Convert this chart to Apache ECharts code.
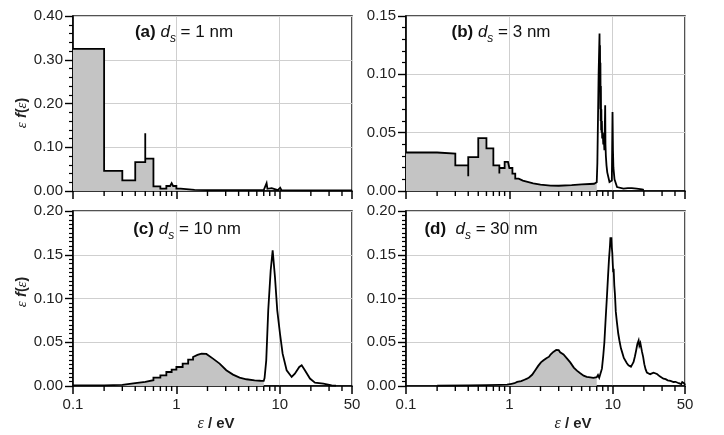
<!DOCTYPE html>
<html><head><meta charset="utf-8">
<script src="https://cdn.jsdelivr.net/npm/echarts@6/dist/echarts.min.js"></script>
<style>html,body{margin:0;padding:0;background:#fff}#c{width:724px;height:435px}</style>
</head><body><div id="c"></div>
<script>
// ---- data (energy eV, eps*f(eps)) ----
const dataA = [
 [0.1,0.325],[0.2,0.325],[0.2,0.046],[0.3,0.046],[0.3,0.0245],[0.4,0.0245],[0.4,0.066],[0.5,0.066],
 [0.5,0.132],[0.5,0.074],[0.6,0.074],[0.6,0.0107],[0.7,0.0107],[0.7,0.0055],[0.8,0.0055],[0.8,0.0114],
 [0.87,0.0114],[0.9,0.018],[0.93,0.0114],[1.0,0.0114],[1.0,0.0055],[1.1,0.0055],[1.1,0.003],[1.5,0.0025],
 [2,0.002],[3,0.002],[5,0.002],[7,0.002],[7.3,0.0035],[7.46,0.018],[7.6,0.005],[7.9,0.0035],[8.35,0.0064],
 [8.6,0.002],[9.6,0.002],[10.1,0.0075],[10.4,0.002],[20,0.0015],[50,0.0015]
];
const dataB = [
 [0.1,0.033],[0.2,0.033],[0.2,0.032],[0.3,0.032],[0.3,0.022],[0.4,0.022],[0.4,0.0126],[0.4,0.029],
 [0.5,0.029],[0.5,0.0454],[0.6,0.0454],[0.6,0.0365],[0.7,0.0365],[0.7,0.022],[0.8,0.022],[0.8,0.015],
 [0.8,0.0197],[0.9,0.0197],[0.9,0.025],[0.97,0.025],[0.97,0.0235],[1.0,0.0235],[1.0,0.0197],[1.07,0.0197],
 [1.07,0.0149],[1.14,0.0149],[1.14,0.0106],[1.23,0.0106],[1.23,0.0089],[1.35,0.0089],[1.5,0.0078],
 [1.7,0.0066],[2,0.0055],[2.5,0.0046],[3,0.0045],[4,0.005],[5,0.0056],[6,0.006],[6.6,0.0062],[7,0.0075],
 [7.1,0.024],[7.19,0.059],[7.3,0.1],[7.45,0.135],[7.5,0.09],[7.53,0.125],[7.57,0.07],[7.6,0.11],
 [7.64,0.06],[7.68,0.09],[7.72,0.052],[7.76,0.07],[7.8,0.05],[7.85,0.06],[7.9,0.045],[8.0,0.05],
 [8.1,0.04],[8.2,0.045],[8.3,0.035],[8.4,0.06],[8.45,0.0735],[8.5,0.04],[8.58,0.03],[8.7,0.022],
 [8.85,0.016],[9.3,0.0077],[9.8,0.009],[9.95,0.0677],[10.05,0.035],[10.15,0.02],[10.4,0.01],
 [11,0.0034],[12.7,0.002],[14,0.0025],[15.3,0.0025],[17,0.002],[19.2,0.0013],[20,0.001]
];
const dataC = [
 [0.1,0.0008],[0.2,0.0008],[0.2,0.0012],[0.3,0.0012],[0.3,0.0034],[0.4,0.0034],[0.4,0.0046],[0.5,0.0046],
 [0.5,0.0066],[0.6,0.0066],[0.6,0.0096],[0.7,0.0096],[0.7,0.0122],[0.8,0.0122],[0.8,0.016],[0.9,0.016],
 [0.9,0.0187],[1.0,0.0187],[1.0,0.0217],[1.15,0.0217],[1.15,0.0256],[1.3,0.0256],[1.3,0.0302],[1.45,0.0302],
 [1.45,0.0331],[1.6,0.0355],[1.75,0.037],[1.95,0.0366],[2.26,0.0313],[2.62,0.0256],[3.04,0.018],
 [3.53,0.013],[4.09,0.0096],[4.75,0.0077],[5.71,0.0065],[6.5,0.006],[7,0.0058],
 [7.13,0.009],[7.4,0.029],[7.74,0.0865],[8.17,0.132],[8.54,0.155],[8.99,0.1246],[9.46,0.0865],
 [10.05,0.06],[10.66,0.037],[11.66,0.018],[13.04,0.0103],[14.0,0.014],[15.45,0.0217],[16.3,0.0236],
 [17.5,0.018],[19.6,0.0085],[21.9,0.0039],[26.4,0.0027],[31.8,0.0008],[35,0.0005]
];
const dataD = [
 [0.2,0.0005],[0.4,0.0008],[0.6,0.001],[0.8,0.0012],[0.95,0.0015],[1.05,0.0025],[1.12,0.0032],[1.19,0.0046],
 [1.3,0.0055],[1.4,0.0072],[1.48,0.0084],[1.55,0.0098],[1.6,0.0115],[1.66,0.0128],[1.72,0.015],[1.78,0.018],
 [1.84,0.0195],[1.9,0.023],[1.95,0.0232],[2.02,0.027],[2.08,0.0275],[2.14,0.0294],[2.2,0.031],[2.28,0.0318],
 [2.35,0.034],[2.42,0.0335],[2.5,0.036],[2.58,0.0365],[2.66,0.039],[2.75,0.0385],[2.84,0.0412],[2.93,0.0405],
 [3.0,0.041],[3.1,0.0385],[3.2,0.0392],[3.34,0.036],[3.45,0.0355],[3.6,0.0315],[3.72,0.0305],[3.88,0.027],
 [4.0,0.0258],[4.2,0.021],[4.35,0.0205],[4.5,0.0175],[4.65,0.0172],[4.85,0.0145],[5.0,0.0148],[5.23,0.0118],
 [5.4,0.0125],[5.6,0.0105],[5.8,0.0112],[6.06,0.0098],[6.3,0.0108],[6.5,0.0092],[6.75,0.0105],[7.0,0.0100],
 [7.2,0.0125],[7.4,0.0095],[7.6,0.014],[7.86,0.0198],[8.1,0.035],[8.3,0.05],[8.55,0.078],[8.8,0.1037],
 [9.0,0.125],[9.2,0.145],[9.4,0.16],[9.5,0.17],[9.6,0.164],[9.7,0.17],[9.8,0.158],[9.9,0.152],[10.0,0.14],
 [10.1,0.13],[10.2,0.134],[10.35,0.115],[10.5,0.105],[10.7,0.085],[10.97,0.073],[11.3,0.06],[11.6,0.052],
 [12.0,0.043],[12.3,0.039],[12.8,0.032],[13.2,0.03],[13.7,0.026],[14.2,0.0237],[14.6,0.025],[15.0,0.022],
 [15.5,0.025],[15.9,0.0274],[16.4,0.034],[16.8,0.04],[17.3,0.048],[17.8,0.052],[18.1,0.046],[18.5,0.049],
 [19.2,0.039],[19.7,0.033],[20.2,0.025],[20.8,0.019],[21.4,0.0153],[22.2,0.0142],[23,0.0135],[23.8,0.0148],
 [24.8,0.0153],[25.7,0.0132],[26.8,0.0137],[28.5,0.011],[29.6,0.0098],[30.9,0.0084],[32.5,0.0078],[34,0.0065],
 [36.2,0.0058],[38.7,0.0046],[40.5,0.0048],[42,0.004],[43.5,0.0032],[45,0.003],[46,0.0022],[47,0.0045],
 [48.4,0.0065],[49.2,0.003],[50,0.001]
];
const panelLabels = ['(a)', '(b)', '(c)', '(d)'];
const panelSizes = ['1 nm', '3 nm', '10 nm', '30 nm'];
const yMaxes = [0.40, 0.15, 0.20, 0.20];
const yIntervals = [0.10, 0.05, 0.05, 0.05];
const yMinorSplits = [5, 5, 10, 10];
const xMinorTicks = [0.2,0.3,0.4,0.5,0.6,0.7,0.8,0.9,2,3,4,5,6,7,8,9,20,30,40];
const fillLimit = 7; // shaded region ends at 7 eV

const chart = echarts.init(document.getElementById('c'), null, {renderer: 'canvas'});
const datasets = [dataA, dataB, dataC, dataD];
const FONT = 'Liberation Sans';
const grids = [
  {left: 73, top: 16, width: 279, height: 175},
  {left: 406, top: 16, width: 279, height: 175},
  {left: 73, top: 211, width: 279, height: 175},
  {left: 406, top: 211, width: 279, height: 175}
].map(g => Object.assign(g, {show: true, borderColor: '#1a1a1a', borderWidth: 1.5, backgroundColor: 'transparent'}));

const xAxes = [], yAxes = [], series = [];
for (let i = 0; i < 4; i++) {
  const bottom = i >= 2;
  xAxes.push({
    type: 'log', logBase: 10, gridIndex: i, min: 0.1, max: 50,
    axisLine: {show: true, lineStyle: {color: '#000', width: 1.6}},
    axisTick: {show: true, length: 8, lineStyle: {color: '#000', width: 1.5}},
    minorTick: {show: false},
    axisLabel: {show: bottom, fontSize: 15, fontFamily: FONT, color: '#222', margin: 11,
      formatter: v => String(Math.round(v * 100) / 100)},
    splitLine: {show: true, lineStyle: {color: '#cfcfcf', width: 1}}
  });
  yAxes.push({
    type: 'value', gridIndex: i, min: 0, max: yMaxes[i], interval: yIntervals[i],
    axisLine: {show: true, lineStyle: {color: '#000', width: 1.6}},
    axisTick: {show: true, length: 8, lineStyle: {color: '#000', width: 1.4}},
    minorTick: {show: true, splitNumber: yMinorSplits[i], length: 4, lineStyle: {color: '#000', width: 1.2}},
    axisLabel: {fontSize: 15, fontFamily: FONT, color: '#222', margin: 10, formatter: v => v.toFixed(2)},
    splitLine: {show: true, lineStyle: {color: '#cfcfcf', width: 1}}
  });
  const d = datasets[i];
  series.push({
    type: 'line', xAxisIndex: i, yAxisIndex: i, data: d.filter(p => p[0] <= fillLimit),
    symbol: 'none', silent: true, z: 1,
    lineStyle: {width: 0, opacity: 0}, areaStyle: {color: '#c4c4c4', opacity: 1}
  });
  series.push({
    type: 'line', xAxisIndex: i, yAxisIndex: i, data: d, symbol: 'none', silent: true, z: 3,
    lineStyle: {color: '#000', width: 1.8, join: 'miter'}
  });
}

const titleRich = {
  b: {fontFamily: FONT, fontWeight: 'bold', fontSize: 17, lineHeight: 26, verticalAlign: 'middle', fill: '#111'},
  i: {fontFamily: FONT, fontStyle: 'italic', fontSize: 17, lineHeight: 26, verticalAlign: 'middle', fill: '#111'},
  s: {fontFamily: FONT, fontStyle: 'italic', fontSize: 12, lineHeight: 12, verticalAlign: 'bottom', fill: '#111'},
  n: {fontFamily: FONT, fontSize: 17, lineHeight: 26, verticalAlign: 'middle', fill: '#111'}
};
const titlePos = [[184, 32], [501, 32], [187, 229], [481, 229]];
const graphics = [];
for (let i = 0; i < 4; i++) {
  const gap = i === 3 ? '  ' : ' ';
  graphics.push({
    type: 'text', x: titlePos[i][0], y: titlePos[i][1], silent: true,
    style: {text: '{b|' + panelLabels[i] + '}{n|' + gap + '}{i|d}{s|s}{n| = ' + panelSizes[i] + '}',
      rich: titleRich, align: 'center', verticalAlign: 'middle', fontSize: 17, fontFamily: FONT}
  });
}
const yNameRich = {
  e: {fontFamily: 'Liberation Serif', fontStyle: 'italic', fontSize: 15, fill: '#222'},
  f: {fontFamily: FONT, fontStyle: 'italic', fontWeight: 'bold', fontSize: 15, fill: '#222'},
  p: {fontFamily: FONT, fontWeight: 'bold', fontSize: 14, fill: '#222'}
};
[[22, 113], [22, 292]].forEach(pos => graphics.push({
  type: 'text', x: pos[0], y: pos[1], rotation: Math.PI / 2, silent: true,
  style: {text: '{e|ε} {f|f}{p|(}{e|ε}{p|)}', rich: yNameRich, align: 'center', verticalAlign: 'middle', fontSize: 15}
}));
const xNameRich = {
  e: {fontFamily: 'Liberation Serif', fontStyle: 'italic', fontSize: 16, fill: '#222'},
  t: {fontFamily: FONT, fontWeight: 'bold', fontSize: 15, fill: '#222'}
};
[[216, 424], [573, 424]].forEach(pos => graphics.push({
  type: 'text', x: pos[0], y: pos[1], silent: true,
  style: {text: '{e|ε}{t| / eV}', rich: xNameRich, align: 'center', verticalAlign: 'middle', fontSize: 15}
}));

chart.setOption({
  animation: false,
  backgroundColor: '#fff',
  grid: grids, xAxis: xAxes, yAxis: yAxes, series: series, graphic: graphics
});

// minor x ticks (2..9 per decade), positioned through the axes' own scales
const tickGraphics = [];
for (let i = 0; i < 4; i++) {
  xMinorTicks.forEach(v => {
    const p = chart.convertToPixel({gridIndex: i}, [v, 0]);
    if (!p) return;
    tickGraphics.push({
      type: 'line', silent: true, z: 10,
      shape: {x1: p[0], y1: p[1], x2: p[0], y2: p[1] + 5},
      style: {stroke: '#000', lineWidth: 1.4}
    });
  });
}
chart.setOption({graphic: graphics.concat(tickGraphics)});
</script></body></html>
